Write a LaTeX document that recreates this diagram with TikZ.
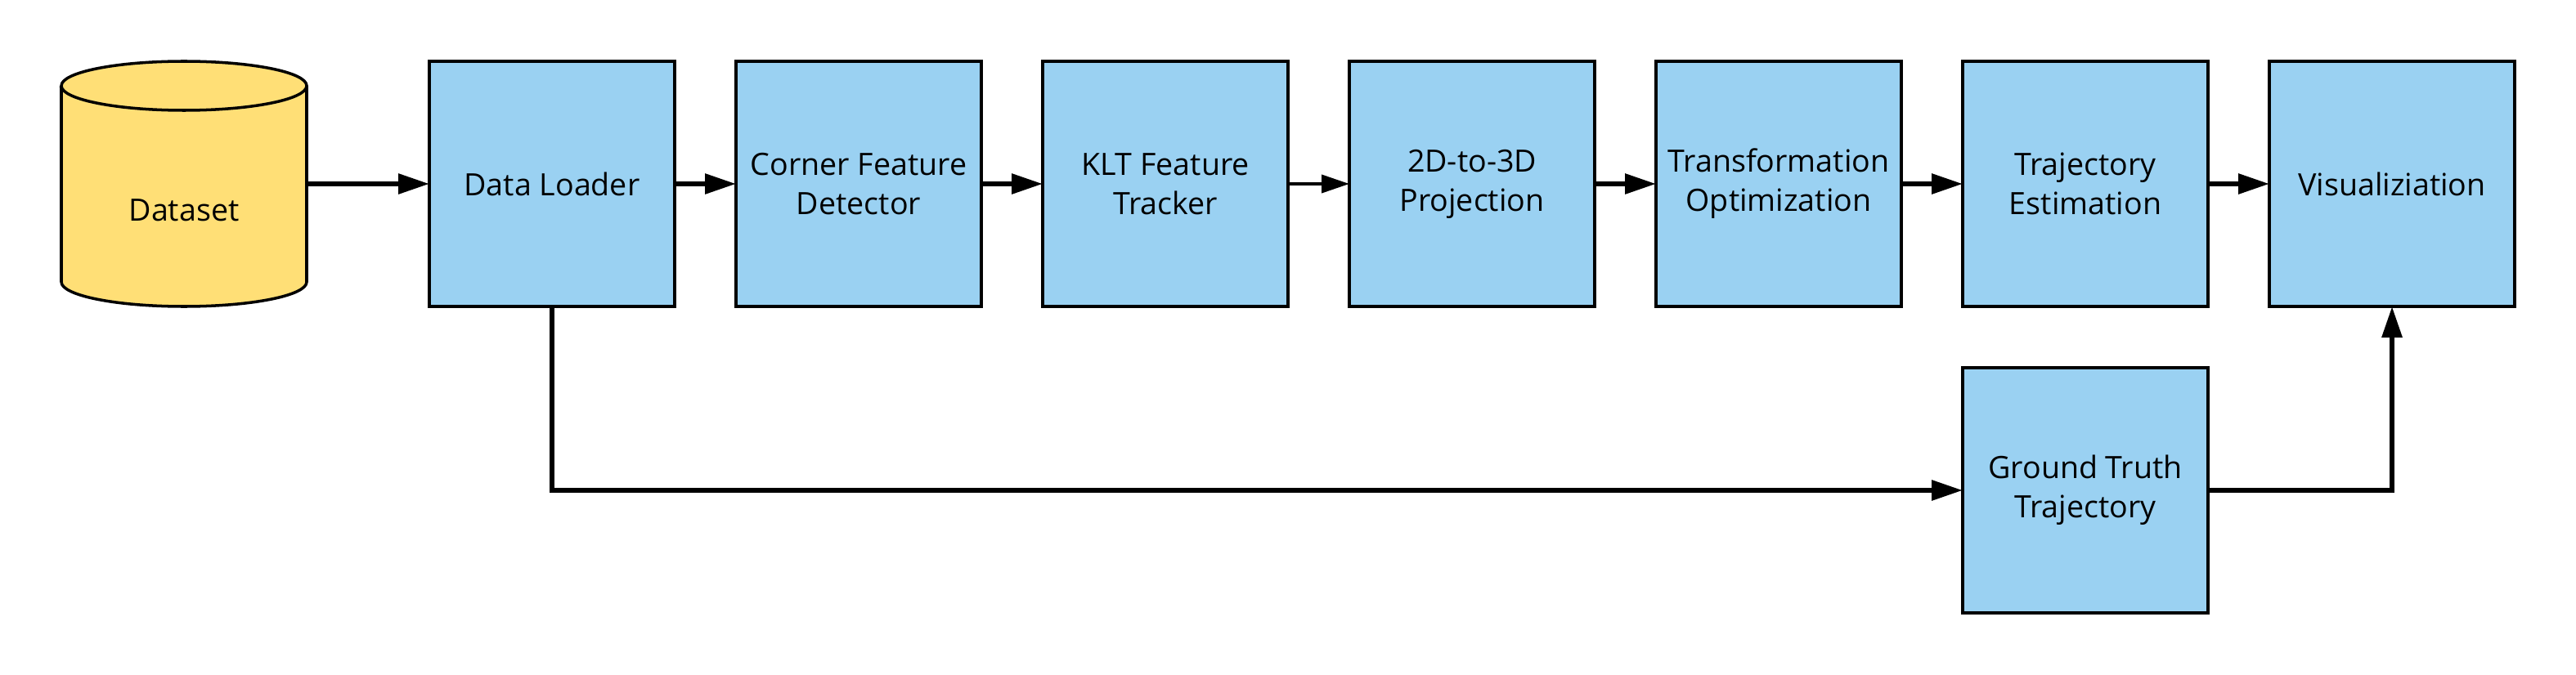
\documentclass[tikz,border=0pt]{standalone}
\usepackage{fontspec}
\setmainfont{Open Sans}
\usetikzlibrary{arrows.meta}
\definecolor{stageblue}{HTML}{9AD1F2}
\definecolor{dbyellow}{HTML}{FFDF76}

\begin{document}
\begin{tikzpicture}[x=7.5mm, y=7.5mm,
  stage/.style={draw, line width=1pt, fill=stageblue, minimum width=30mm,
    minimum height=30mm, outer sep=0pt, align=center, inner sep=2pt},
  flow/.style={line width=1.7pt, -{Triangle[length=3.8mm, width=2.4mm]}},
  thinflow/.style={line width=1.1pt, -{Triangle[length=3.4mm, width=2.2mm]}}]

  \fontsize{10.7}{13.7}\selectfont

  \newcommand\XS{5};
  \newcommand\YS{8};

  \useasboundingbox (0,0) rectangle (42,11);

  % Dataset (drawn as a cylinder round an empty node)
  \node[minimum width=30mm, minimum height=30mm, outer sep=0pt] (data) at (3, \YS) {};
  \draw[line width=1pt, fill=dbyellow] (1, 9.6) -- (1, 6.4)
    arc[start angle=180, end angle=360, x radius=15mm, y radius=3mm] -- (5, 9.6)
    arc[start angle=0, end angle=180, x radius=15mm, y radius=3mm] -- cycle;
  \draw[line width=1pt] (1, 9.6) arc[start angle=180, end angle=360, x radius=15mm, y radius=3mm];
  \node (datalabel) at ([yshift=-3.2mm]data.center) {Dataset};

  \node[stage] (loader) at (9+0*\XS, \YS) {Data Loader};
  \node[stage] (corner) at (9+1*\XS, \YS) {Corner Feature\\Detector};
  \node[stage] (klt)    at (9+2*\XS, \YS) {KLT Feature\\Tracker};
  \node[stage] (proj)   at (9+3*\XS, \YS) {2D-to-3D\\Projection};
  \node[stage] (optim)  at (9+4*\XS, \YS) {Transformation\\Optimization};
  \node[stage] (traj)   at (9+5*\XS, \YS) {Trajectory\\Estimation};
  \node[stage] (vis)    at (9+6*\XS, \YS) {Visualiziation};

  \node[stage] (truth)  at (9+5*\XS, 3) {Ground Truth\\Trajectory};

  \draw[flow] (data.east) -- (loader.west);    %% Dataset->Loader
  \draw[flow] (loader) -- (corner);            %% Loader->Corner
  \draw[flow] (corner) -- (klt);               %% Corner->KLT
  \draw[thinflow] (klt) -- (proj);             %% KLT->Projection
  \draw[flow] (proj) -- (optim);               %% Projection->Optimization
  \draw[flow] (optim) -- (traj);               %% Optimization->Trajectory
  \draw[flow] (traj) -- (vis);                 %% Trajectory->Vis

  \draw[flow] (loader.south) |- (truth.west);  %% Loader->Truth
  \draw[flow] (truth.east) -| (vis.south);     %% Truth->Vis
\end{tikzpicture}
\end{document}
